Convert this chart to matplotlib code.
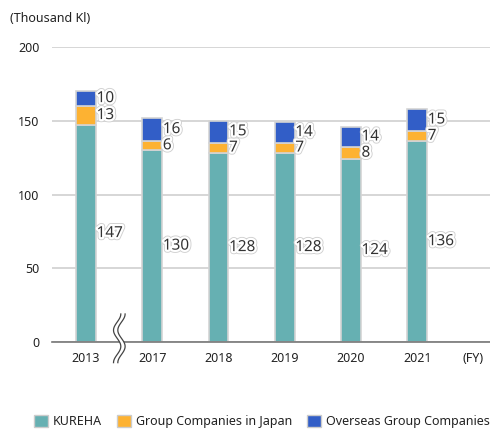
import numpy as np
import matplotlib.pyplot as plt
import matplotlib.patheffects as pe
from matplotlib.patches import Polygon, Rectangle

plt.rcParams['font.family'] = ['Noto Sans', 'DejaVu Sans']

# fuel usage by company group, thousand kl
years = ['2013', '2017', '2018', '2019', '2020', '2021']
kureha = [147, 130, 128, 128, 124, 136]
group_japan = [13, 6, 7, 7, 8, 7]
overseas = [10, 16, 15, 14, 14, 15]

c_kureha = '#66b0b2'
c_japan = '#fdb232'
c_overseas = '#325ec7'

xpos = np.arange(len(years))

fig = plt.figure(figsize=(4.9, 4.3), dpi=100)
ax = fig.add_axes([52 / 490, 88 / 430, 438 / 490, 295 / 430])

w = 0.30
edge = dict(edgecolor='#d4d4d4', linewidth=1.2, zorder=3)
ax.bar(xpos, kureha, w, color=c_kureha, **edge)
ax.bar(xpos, group_japan, w, bottom=kureha, color=c_japan, **edge)
bottom2 = np.array(kureha) + np.array(group_japan)
ax.bar(xpos, overseas, w, bottom=bottom2, color=c_overseas, **edge)

halo = [pe.Stroke(linewidth=4.5, foreground='#d0d0d0'),
        pe.Stroke(linewidth=3.2, foreground='white'), pe.Normal()]
lx = xpos + w / 2 + 0.01
for i in range(len(years)):
    ax.text(lx[i], kureha[i] / 2, str(kureha[i]), fontsize=11, va='center',
            ha='left', color='#333333', path_effects=halo, zorder=5)
    ax.text(lx[i], kureha[i] + group_japan[i] / 2, str(group_japan[i]), fontsize=11,
            va='center', ha='left', color='#333333', path_effects=halo, zorder=5)
    ax.text(lx[i], bottom2[i] + overseas[i] / 2, str(overseas[i]), fontsize=11,
            va='center', ha='left', color='#333333', path_effects=halo, zorder=5)

ax.set_xlim(-0.514, 6.10)
ax.set_ylim(0, 200)
ax.set_yticks([0, 50, 100, 150, 200])
ax.yaxis.grid(True, color='#cfcfcf', linewidth=1.2)
ax.set_axisbelow(True)
for s in ['top', 'right', 'left']:
    ax.spines[s].set_visible(False)
ax.spines['bottom'].set_color('#777777')
ax.spines['bottom'].set_linewidth(1.2)
ax.spines['bottom'].set_zorder(4)
ax.tick_params(axis='y', length=0, pad=9, labelsize=9, labelcolor='#222222')
ax.tick_params(axis='x', length=0, pad=7, labelsize=9, labelcolor='#222222')
ax.set_xticks(list(xpos) + [5.85])
ax.set_xticklabels(years + ['(FY)'])

fig.text(10 / 490, 1 - 18 / 430, '(Thousand Kl)', fontsize=9, color='#222222', va='center')

# axis break marker between 2013 and 2017
t = np.linspace(0, 1, 60)
bx = 0.47 - 0.055 * np.cos(3 * np.pi * t)
by = -14 + t * 33
gap = 0.065
poly = np.vstack([np.column_stack([bx, by]), np.column_stack([bx[::-1] + gap, by[::-1]])])
ax.add_patch(Polygon(poly, closed=True, facecolor='white', edgecolor='none',
                     clip_on=False, zorder=6))
ax.plot(bx, by, color='#444444', linewidth=0.9, clip_on=False, zorder=7)
ax.plot(bx + gap, by, color='#444444', linewidth=0.9, clip_on=False, zorder=7)

handles = [Rectangle((0, 0), 1, 1, facecolor=c, edgecolor='#cccccc', linewidth=1)
           for c in [c_kureha, c_japan, c_overseas]]
fig.legend(handles, ['KUREHA', 'Group Companies in Japan', 'Overseas Group Companies'],
           loc='center', bbox_to_anchor=(0.535, 0.02), ncol=3, frameon=False,
           fontsize=9, handlelength=1.1, handleheight=1.1, handletextpad=0.4,
           columnspacing=1.2, labelcolor='#222222')

fig.savefig('out.png', dpi=100)
